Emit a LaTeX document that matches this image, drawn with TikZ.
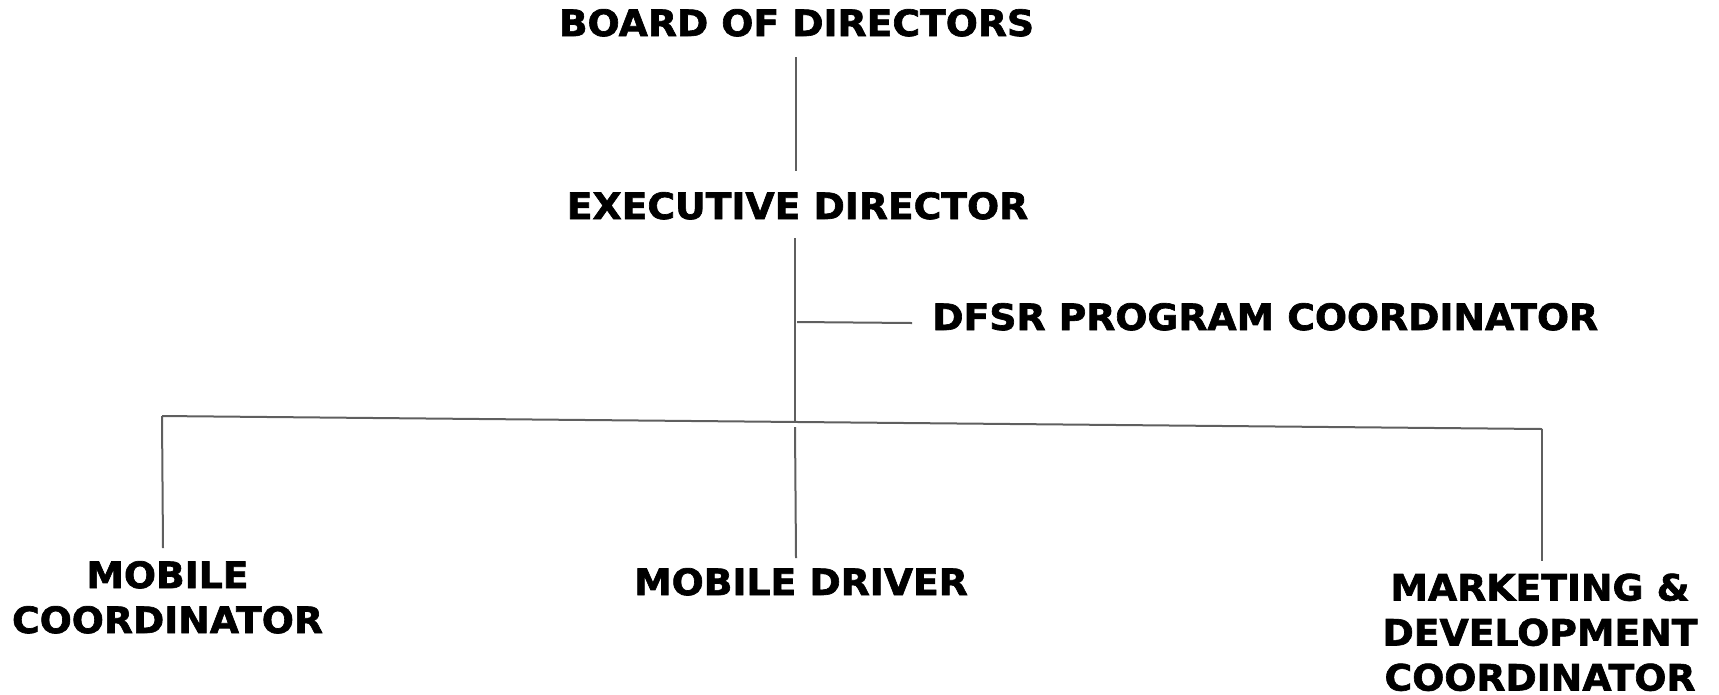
\documentclass[tikz,border=0pt]{standalone}
\usepackage{fontspec}
\setmainfont{DejaVu Sans}[BoldFont={DejaVu Sans Bold},BoldFeatures={FakeStretch=1.04,FakeBold=1.8}]
\definecolor{linegray}{HTML}{5F5F5F}
\begin{document}
\begin{tikzpicture}[x=0.75pt,y=-0.75pt,
  lbl/.style={font=\fontsize{27.2pt}{33.75pt}\selectfont\bfseries,inner sep=0pt,anchor=base,align=center,text=black},
  conn/.style={draw=linegray,line width=1.5pt}]
\useasboundingbox (0,0) rectangle (1719,694);
\node[lbl] (board) at (796.5,36) {BOARD OF DIRECTORS};
\node[lbl] (exec) at (797.5,219) {EXECUTIVE DIRECTOR};
\node[lbl,anchor=base west] (dfsr) at (932,330) {DFSR PROGRAM COORDINATOR};
\node[lbl] (mcoord) at (167.5,633) {MOBILE\\COORDINATOR};
\node[lbl] (mdriver) at (801,595) {MOBILE DRIVER};
\node[lbl] (mdev) at (1540,690.5) {MARKETING \&\\DEVELOPMENT\\COORDINATOR};
\coordinate (b1) at (796,57);
\coordinate (b2) at (796,171);
\coordinate (e1) at (795,238);
\coordinate (j) at (795,422);
\coordinate (d1) at (797,322);
\coordinate (d2) at (912,323);
\coordinate (hl) at (162,416);
\coordinate (hr) at (1542,429);
\coordinate (l2) at (163,548);
\coordinate (m1) at (795,427);
\coordinate (m2) at (796,558);
\coordinate (r2) at (1542,561);
\draw[conn] (b1) -- (b2);
\draw[conn] (e1) -- (j);
\draw[conn] (d1) -- (d2);
\draw[conn] (hl) -- (hr);
\draw[conn] (hl) -- (l2);
\draw[conn] (m1) -- (m2);
\draw[conn] (hr) -- (r2);
\end{tikzpicture}
\end{document}
